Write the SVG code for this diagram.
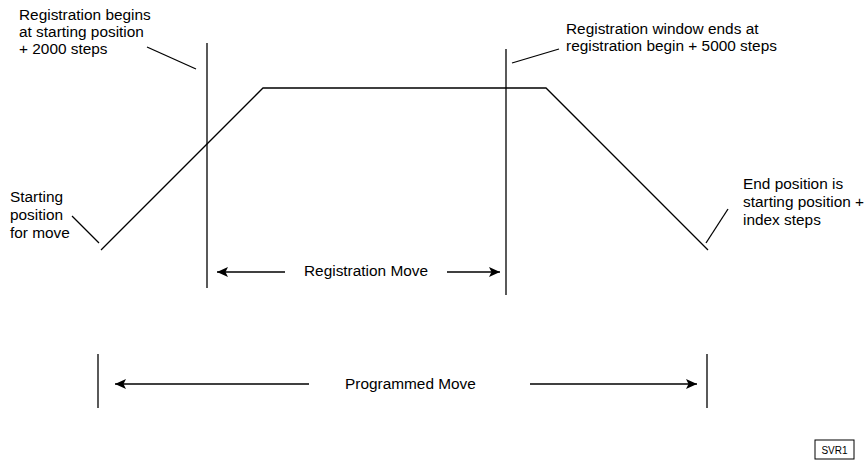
<svg xmlns="http://www.w3.org/2000/svg" width="865" height="461" viewBox="0 0 865 461">
<defs>
<style>
text{font-family:"Liberation Sans",Arial,sans-serif;font-size:15.4px;fill:#000}
.ln{stroke:#000;stroke-width:1.3;fill:none}
.ar{stroke:#000;stroke-width:1.5;fill:none}
.hd{fill:#000;stroke:none}
</style>
<marker id="ah" viewBox="0 0 11 10" refX="11" refY="5" markerWidth="11" markerHeight="10" markerUnits="userSpaceOnUse" orient="auto">
<path class="hd" d="M0,0 L11,5 L0,10 L2.5,5 Z"/>
</marker>
</defs>
<rect width="865" height="461" fill="#fff"/>
<g id="profile">
<polyline class="ln" points="101,250 263,88 546,88 708,250"/>
</g>
<g id="reg-begin">
<line class="ln" x1="207" y1="43" x2="207" y2="288"/>
<text x="19" y="20">Registration begins</text>
<text x="19" y="37">at starting position</text>
<text x="19" y="54">+ 2000 steps</text>
</g>
<g id="reg-end">
<line class="ln" x1="506" y1="49" x2="506" y2="295"/>
<text x="566" y="34">Registration window ends at</text>
<text x="566" y="51">registration begin + 5000 steps</text>
</g>
<g id="start-pos">
<text x="10" y="202">Starting</text>
<text x="10" y="220">position</text>
<text x="10" y="238">for move</text>
</g>
<g id="end-pos">
<text x="743" y="189">End position is</text>
<text x="743" y="207">starting position +</text>
<text x="743" y="225">index steps</text>
</g>
<g id="prog-bounds">
<line class="ln" x1="98" y1="354" x2="98" y2="408"/>
<line class="ln" x1="707" y1="354" x2="707" y2="408"/>
</g>
<g id="registration-move">
<text x="304" y="276">Registration Move</text>
</g>
<g id="programmed-move">
<text x="345" y="389">Programmed Move</text>
</g>
<g id="connectors">
<line class="ln" x1="147" y1="47" x2="196" y2="69"/>
<line class="ln" x1="512" y1="63" x2="559" y2="49"/>
<line class="ln" x1="72" y1="216" x2="99" y2="243"/>
<line class="ln" x1="728" y1="209" x2="706" y2="243"/>
<line class="ar" x1="285" y1="272" x2="217" y2="272" marker-end="url(#ah)"/>
<line class="ar" x1="447" y1="272" x2="500" y2="272" marker-end="url(#ah)"/>
<line class="ar" x1="309" y1="384" x2="115" y2="384" marker-end="url(#ah)"/>
<line class="ar" x1="530" y1="384" x2="697" y2="384" marker-end="url(#ah)"/>
</g>
<g id="svr1">
<rect x="815" y="440" width="39" height="19" fill="none" stroke="#000" stroke-width="1"/>
<text x="834.5" y="454" text-anchor="middle" style="font-size:10px">SVR1</text>
</g>
</svg>
